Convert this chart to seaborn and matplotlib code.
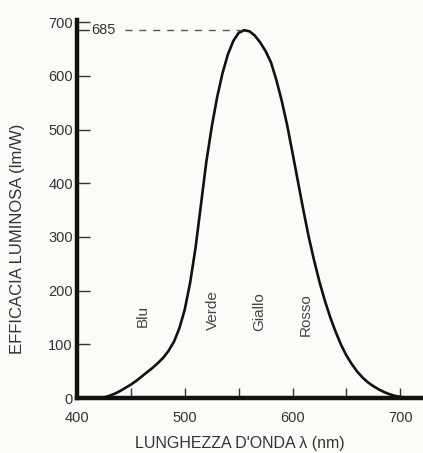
import numpy as np
import pandas as pd
import seaborn as sns
import matplotlib.pyplot as plt

# Curve values (wavelength nm -> luminous efficacy lm/W)
wavelength = [420, 425, 430, 435, 440, 445, 450, 455, 460, 465, 470, 475, 480,
              485, 490, 495, 500, 505, 510, 515, 520, 525, 530, 535, 540, 545,
              550, 555, 560, 565, 570, 575, 580, 585, 590, 595, 600, 605, 610,
              615, 620, 625, 630, 635, 640, 645, 650, 655, 660, 665, 670, 675,
              680, 685, 690, 695, 700, 705, 710, 721]
efficacy = [0, 1, 4, 8, 13, 19, 25, 32, 40, 48, 56, 65, 75,
            88, 105, 130, 165, 215, 280, 360, 440, 505, 560, 605, 640, 665,
            680, 685, 683, 675, 662, 646, 625, 592, 553, 508, 456, 403, 350,
            300, 256, 216, 181, 150, 123, 99, 79, 63, 49, 38, 29, 22,
            16, 11, 7, 4, 2, 1, 0, 0]

peak_value = 685
peak_wavelength = 555

band_names = ['Blu', 'Verde', 'Giallo', 'Rosso']
band_x = [461, 526, 569, 612]
band_y = [153, 164, 160, 156]

y_ticks = [0, 100, 200, 300, 400, 500, 600, 700]
x_major = [400, 500, 600, 700]
x_minor = [450, 550, 650]

df = pd.DataFrame({'wavelength': wavelength, 'efficacy': efficacy})

sns.set_theme(style='ticks')
plt.rcParams['font.family'] = ['Liberation Sans', 'DejaVu Sans']
bg = '#fbfbf8'

fig = plt.figure(figsize=(4.23, 4.53), dpi=100, facecolor=bg)
ax = fig.add_axes([0.182, 0.1214, 0.818, 0.8344])
ax.set_facecolor(bg)

sns.lineplot(data=df, x='wavelength', y='efficacy', color='#111111',
             linewidth=1.9, ax=ax)

# dashed guide to the peak
ax.hlines(peak_value, 445, peak_wavelength - 3, colors='#555555',
          linestyles=(0, (5, 5)), linewidth=1.0)
ax.text(413, peak_value, str(peak_value), fontsize=10.5, color='#333333',
        va='center', ha='left')
ax.plot([401, 411], [peak_value, peak_value], color='#333333', lw=1.0)

for name, bx, by in zip(band_names, band_x, band_y):
    ax.text(bx, by, name, rotation=90, fontsize=11, color='#444444',
            ha='center', va='center')

ax.set_xlim(400, 721)
ax.set_ylim(0, 704)
ax.set_xticks(x_major)
ax.set_xticks(x_minor, minor=True)
ax.set_yticks(y_ticks)
ax.tick_params(axis='x', which='both', direction='in', length=7, width=1.0,
               pad=9, labelsize=10.5, colors='#333333')
ax.tick_params(axis='y', direction='in', length=9, width=1.0, pad=3,
               labelsize=10.5, colors='#333333')

for side in ['top', 'right']:
    ax.spines[side].set_visible(False)
for side in ['left', 'bottom']:
    ax.spines[side].set_linewidth(3.2)
    ax.spines[side].set_color('#111111')

ax.set_xlabel("LUNGHEZZA D'ONDA λ (nm)", fontsize=11.5, color='#333333')
ax.set_ylabel('EFFICACIA LUMINOSA (lm/W)', fontsize=12, color='#333333')
ax.xaxis.set_label_coords(0.47, -0.10)
ax.yaxis.set_label_coords(-0.15, 0.42)

fig.savefig('out.png', dpi=100, facecolor=bg)
